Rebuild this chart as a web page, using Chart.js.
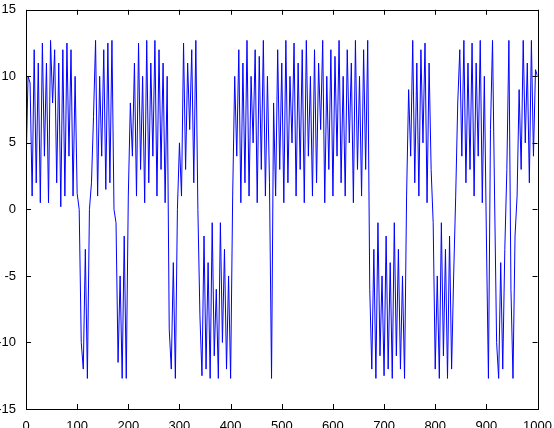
<!DOCTYPE html>
<html><head><script src="https://cdn.jsdelivr.net/npm/chart.js@4"></script>
<style>html,body{margin:0;background:#fff}#w{width:554px;height:428px}</style></head>
<body><div id="w"><canvas id="c"></canvas></div>
<script>
const step = 4;
const yValues = [
3,10,9.5,1,12,2,11,0.5,12.5,4,11,0.5,12.7,8,12,2,11,0.2,12,1,12.5,4,12,1,10,1.2,
0,
-10,-12,-3,-12.7,
0,
2,7,12.7,1,10,4,12,1.5,12.5,2,12.7,
0,-1,
-11.5,-5,-12.7,-2,-12.7,
1,
8,4,11,1,12.5,3,10,0.5,12.7,2,11,4,12.7,1,12,3,11,0.5,10,
-9,-12,-4,-12.7,
0,
5,1,12.5,3,11,6,12,2,12.7,
0,
-8,-12.5,-2,-12,-4,-12.7,-1,-11,-6,-12.7,-1,-10,-3,-12,-5,-12.7,
1,
10,4,12,0.5,11,2,12.7,1,10,5,12,0.5,11.5,3,12.7,1,10,2,
-12.7,
8,1,12,3,11,0.5,12.7,2,10,5,12.5,1,11,3,12,0.5,12.7,4,10,1,12,2,11,6,12.7,0.5,10,3,12,1,11.5,4,12.7,2,10,1,12,5,11,0.5,12.7,3,10,1,12,3,12.7,
-6,-12,-3,-12.7,-1,-11,-5,-12.5,-2,-12,-4,-12.7,-1,-11,-3,-12,-5,-12.7,
1,9,4,12.7,2,11,1,12,5,12.5,0.5,11,3,
-1,-12,-5,-12.7,-1,-11,-3,-12.7,-2,-12,-5,
1,8,12,4,12.7,2,11,3,12.5,1,11,4,12.7,0.5,10,
-2,-12.7,
6,12.7,1,
-10,-12.7,-4,-12,-3,
3,12.7,
-6,-12.7,-2,
1,9,3,12.7,5,11,2,12.7,4,10.5,
10
];
const xTicks = [0,100,200,300,400,500,600,700,800,900,1000];
const yTicks = [-15,-10,-5,0,5,10,15];
const pts = yValues.map((y,i)=>({x:i*step,y}));
const boxPlugin = {id:'box',afterDraw(ch){
  const {ctx,chartArea:a,scales:{x,y}}=ch;
  ctx.save();ctx.strokeStyle='#000';ctx.lineWidth=1;
  ctx.strokeRect(Math.round(a.left)+0.5,Math.round(a.top)+0.5,Math.round(a.right-a.left),Math.round(a.bottom-a.top));
  ctx.beginPath();
  xTicks.forEach(v=>{const p=Math.round(x.getPixelForValue(v))+0.5;ctx.moveTo(p,a.bottom);ctx.lineTo(p,a.bottom-5);ctx.moveTo(p,a.top);ctx.lineTo(p,a.top+5);});
  yTicks.forEach(v=>{const p=Math.round(y.getPixelForValue(v))+0.5;ctx.moveTo(a.left,p);ctx.lineTo(a.left+5,p);ctx.moveTo(a.right,p);ctx.lineTo(a.right-5,p);});
  ctx.stroke();ctx.restore();}};
new Chart(document.getElementById('c'),{type:'line',
data:{datasets:[{data:pts,borderColor:'#0000ff',borderWidth:1,pointRadius:0,tension:0}]},
options:{responsive:true,maintainAspectRatio:false,animation:false,
layout:{padding:{top:5,right:14,left:0,bottom:0}},
plugins:{legend:{display:false},tooltip:{enabled:false}},
scales:{
x:{type:'linear',min:0,max:1000,afterFit(s){s.height=19;},afterBuildTicks(s){s.ticks=xTicks.map(v=>({value:v}));},
grid:{display:false},border:{display:false},ticks:{color:'#000',font:{family:'Liberation Sans',size:13},padding:2,maxRotation:0,callback:v=>String(v)}},
y:{min:-15,max:15,afterFit(s){s.width=26;},afterBuildTicks(s){s.ticks=yTicks.map(v=>({value:v}));},
grid:{display:false},border:{display:false},ticks:{color:'#000',font:{family:'Liberation Sans',size:13},padding:2,callback:v=>String(v)}}
}},plugins:[boxPlugin]});
</script></body></html>
